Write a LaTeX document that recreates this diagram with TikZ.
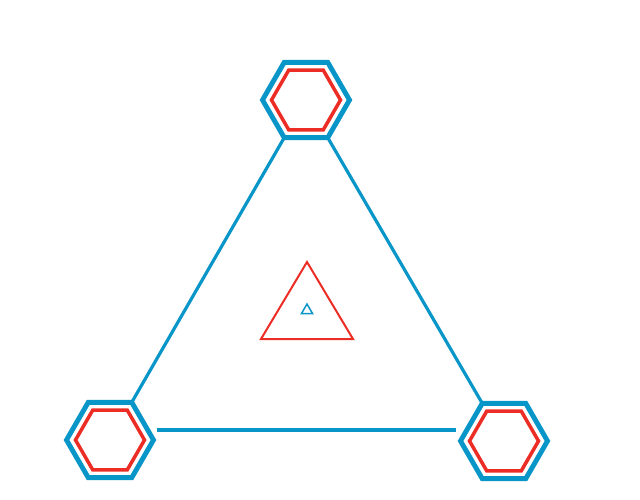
\documentclass[tikz,border=0pt]{standalone}
\usetikzlibrary{shapes.geometric}
\definecolor{hexblue}{RGB}{8,150,200}
\definecolor{hexred}{RGB}{236,45,38}
\tikzset{
  hexo/.style={regular polygon, regular polygon sides=6, minimum size=87pt, inner sep=0pt, outer sep=0pt, draw=hexblue, line width=4.9pt},
  hexi/.style={regular polygon, regular polygon sides=6, minimum size=69pt, inner sep=0pt, outer sep=0pt, draw=hexred, line width=3.5pt},
  link/.style={draw=hexblue, line width=3.2pt},
  bigtri/.style={draw=hexred, line width=2pt, line join=miter},
  smalltri/.style={draw=hexblue, line width=1.5pt, line join=miter}
}
\begin{document}
\begin{tikzpicture}[x=1pt,y=-1pt]
\useasboundingbox (0,0) rectangle (640,500);
\node[hexo] (top) at (306,100) {};
\node[hexi] (topi) at (306,100) {};
\node[hexo] (bl) at (110,440) {};
\node[hexi] (bli) at (110,440) {};
\node[hexo] (br) at (504,441) {};
\node[hexi] (bri) at (504,441) {};
\draw[link] (top.240) -- (bl.60);
\draw[link] (top.300) -- (br.120);
\draw[link] ([xshift=3pt,yshift=10pt]bl.east) -- ([xshift=-5pt,yshift=11pt]br.west);
\coordinate (ra) at (307,262);
\coordinate (rb) at (261,339);
\coordinate (rc) at (353,339);
\draw[bigtri] (ra) -- (rb) -- (rc) -- cycle;
\coordinate (sa) at (307,304);
\coordinate (sb) at (301.5,313.5);
\coordinate (sc) at (312.5,313.5);
\draw[smalltri] (sa) -- (sb) -- (sc) -- cycle;
\end{tikzpicture}
\end{document}
